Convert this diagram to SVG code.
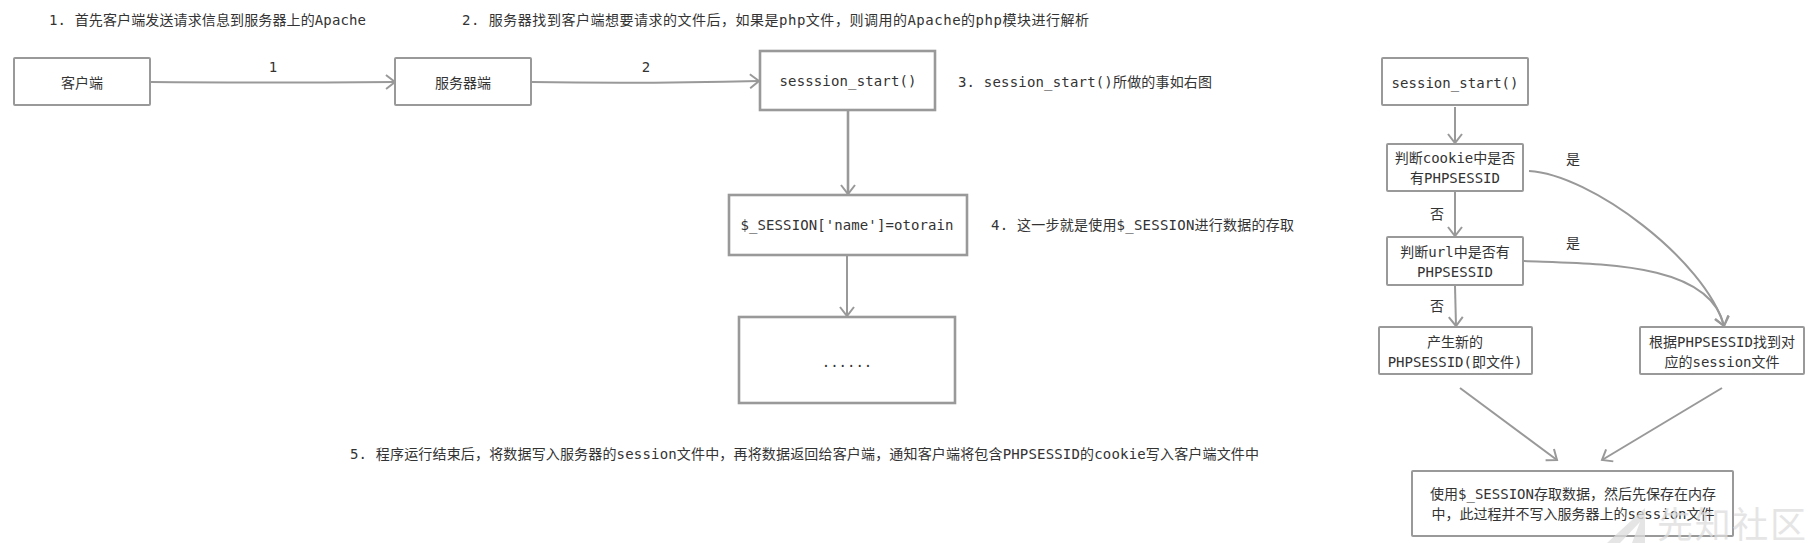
<svg xmlns="http://www.w3.org/2000/svg" width="1814" height="543" viewBox="0 0 1814 543">
<style>
text{font-family:"DejaVu Sans Mono","Noto Sans CJK SC",monospace;font-size:14px;fill:#333;dominant-baseline:central}
.c{text-anchor:middle}
.b{fill:#fff;stroke:#999;stroke-width:2}
.t{stroke-width:2.6}
.l{fill:none;stroke:#999;stroke-width:2}
.h{stroke-width:2.6}
.a{marker-end:url(#arr)}
.wm{font-family:"Noto Sans CJK SC",sans-serif;font-size:36px;fill:#ddd}
</style>
<defs>
<marker id="arr" markerUnits="userSpaceOnUse" markerWidth="20" markerHeight="20" refX="11" refY="8" orient="auto">
<path d="M2 1L11 8L2 15" fill="none" stroke="#999" stroke-width="2"/>
</marker>
</defs>
<rect width="1814" height="543" fill="#fff"/>
<g id="connectors">
<path class="l a" d="M151 82Q250 83 395 82"/>
<path class="l a" d="M532 82Q640 84 759 81"/>
<path class="l h a" d="M848 111V194"/>
<path class="l a" d="M847 256V316"/>
<path class="l a" d="M1455 107V143"/>
<path class="l a" d="M1455 192V236"/>
<path class="l a" d="M1455 286L1456 326"/>
<path class="l a" d="M1529 171C1590 174 1705 260 1724 326"/>
<path class="l a" d="M1524 261C1600 264 1710 262 1724 326"/>
<path class="l a" d="M1460 388L1557 460"/>
<path class="l a" d="M1722 388L1602 460"/>
</g>
<g id="n-client"><rect class="b" x="14" y="58" width="136" height="47" rx="1"/><text class="c" x="82" y="83">客户端</text></g>
<g id="n-server"><rect class="b" x="395" y="58" width="136" height="47" rx="1"/><text class="c" x="463" y="83">服务器端</text></g>
<g id="n-sesssion"><rect class="b t" x="760" y="51" width="175" height="59"/><text class="c" x="848" y="81" textLength="137">sesssion_start()</text></g>
<g id="n-session-name"><rect class="b t" x="729" y="195" width="238" height="60"/><text class="c" x="847" y="225" textLength="213">$_SESSION['name']=otorain</text></g>
<g id="n-dots"><rect class="b t" x="739" y="317" width="216" height="86"/><text class="c" x="847" y="362">......</text></g>
<g id="n-start"><rect class="b" x="1382" y="58" width="146" height="47" rx="1"/><text class="c" x="1455" y="83" textLength="127">session_start()</text></g>
<g id="n-cookie"><rect class="b" x="1387" y="144" width="136" height="47" rx="1"/><text class="c" x="1455" y="158">判断cookie中是否</text><text class="c" x="1455" y="178">有PHPSESSID</text></g>
<g id="n-url"><rect class="b" x="1387" y="237" width="136" height="48" rx="1"/><text class="c" x="1455" y="252">判断url中是否有</text><text class="c" x="1455" y="272">PHPSESSID</text></g>
<g id="n-new"><rect class="b" x="1379" y="327" width="153" height="47" rx="1"/><text class="c" x="1455" y="342">产生新的</text><text class="c" x="1455" y="362">PHPSESSID(即文件)</text></g>
<g id="n-find"><rect class="b" x="1640" y="327" width="164" height="47" rx="1"/><text class="c" x="1722" y="342">根据PHPSESSID找到对</text><text class="c" x="1722" y="362">应的session文件</text></g>
<g id="n-store"><rect class="b" x="1412" y="471" width="321" height="65" rx="1"/><text class="c" x="1573" y="494">使用$_SESSION存取数据，然后先保存在内存</text><text class="c" x="1573" y="514">中，此过程并不写入服务器上的session文件</text></g>
<g id="labels">
<text x="49" y="20" textLength="317">1. 首先客户端发送请求信息到服务器上的Apache</text>
<text x="462" y="20" textLength="627">2. 服务器找到客户端想要请求的文件后，如果是php文件，则调用的Apache的php模块进行解析</text>
<text x="958" y="82" textLength="254">3. session_start()所做的事如右图</text>
<text x="991" y="225" textLength="303">4. 这一步就是使用$_SESSION进行数据的存取</text>
<text x="350" y="454" textLength="909">5. 程序运行结束后，将数据写入服务器的session文件中，再将数据返回给客户端，通知客户端将包含PHPSESSID的cookie写入客户端文件中</text>
<text class="c" x="273" y="67">1</text>
<text class="c" x="646" y="67">2</text>
<text class="c" x="1437" y="214">否</text>
<text class="c" x="1437" y="306">否</text>
<text class="c" x="1573" y="159">是</text>
<text class="c" x="1573" y="243">是</text>
</g>
<g id="watermark" opacity="0.75">
<path d="M1607 543L1645 508V543H1632L1640 522L1620 543Z" fill="#ddd"/>
<text class="wm" x="1657" y="522" textLength="149">先知社区</text>
</g>
</svg>
